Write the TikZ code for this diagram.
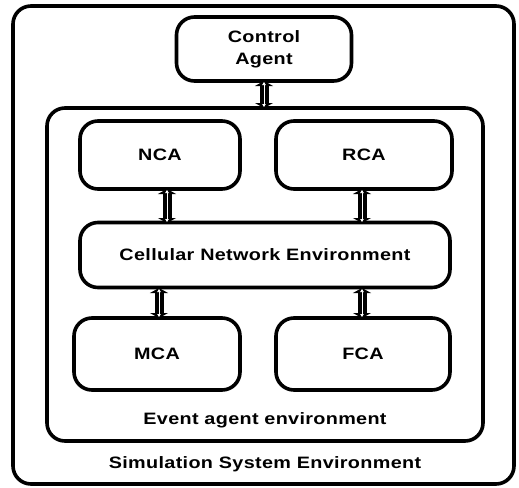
\documentclass[tikz,border=0pt]{standalone}
\usepackage{fontspec}
\setmainfont{Liberation Sans}[FakeStretch=1.2,LetterSpace=2]
\usetikzlibrary{arrows.meta}
\begin{document}
\begin{tikzpicture}[x=1pt,y=-1pt,
  box/.style={draw=black,line width=3.6pt,rounded corners=18pt},
  lbl/.style={font=\bfseries\fontsize{16.5}{22}\selectfont,align=center},
  dbl/.style={line width=9pt,{Triangle[length=5pt,width=18pt]}-{Triangle[length=5pt,width=18pt]}},
  dblin/.style={white,line width=1pt,shorten <=1pt,shorten >=1pt,{Triangle[length=3pt,width=3.5pt]}-{Triangle[length=3pt,width=3.5pt]}}]
\useasboundingbox (0,0) rectangle (519,487);
\fill[white] (0,0) rectangle (519,487);
\draw[box] (13,6) rectangle (514,484);
\draw[box] (47,108) rectangle (483,441);
\node[box,minimum width=175pt,minimum height=64pt,lbl] (ctrl) at (264,49) {Control\\Agent};
\node[box,minimum width=160pt,minimum height=68pt,lbl] (nca) at (160,155) {NCA};
\node[box,minimum width=176pt,minimum height=68pt,lbl] (rca) at (364,155) {RCA};
\node[box,minimum width=370pt,minimum height=65pt,lbl] (cne) at (265,255) {Cellular Network Environment};
\node[box,minimum width=166pt,minimum height=72pt,lbl] (mca) at (157,354) {MCA};
\node[box,minimum width=174pt,minimum height=72pt,lbl] (fca) at (363,354) {FCA};
\node[lbl] (eae) at (265,420) {Event agent environment};
\node[lbl] (sse) at (265,464) {Simulation System Environment};
\foreach \s/\e in {{264,81}/{264,108},{167,189}/{167,223},{362,189}/{362,223},{159,288}/{159,318},{362,288}/{362,318}}{
  \draw[dbl] (\s) -- (\e);
  \draw[dblin] (\s) -- (\e);
}
\end{tikzpicture}
\end{document}
